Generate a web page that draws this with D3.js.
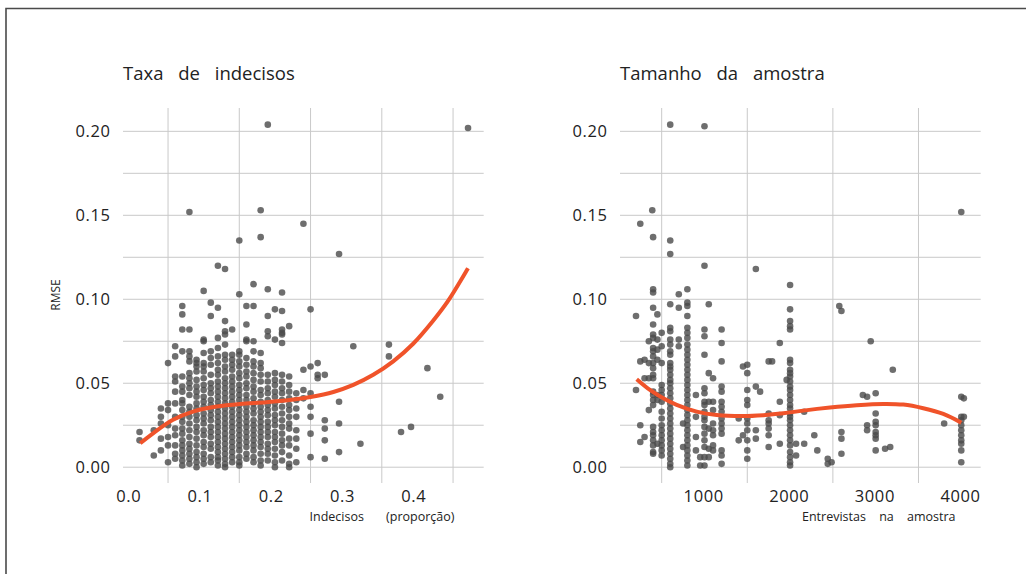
<!DOCTYPE html>
<html>
<head>
<meta charset="utf-8">
<script src="https://cdn.jsdelivr.net/npm/d3@7"></script>
<style>
  body { margin: 0; background: #fff; }
  svg text { font-family: "Open Sans", sans-serif; fill: #222; }
</style>
</head>
<body>
<div id="chart"></div>
<script>
// RMSE by share of undecided voters: [undecided share, [rmse values]]
const undecidedGroups = [
  [0.01, [0.021, 0.016]],
  [0.03, [0.022, 0.007]],
  [0.04, [0.035, 0.030, 0.026, 0.017, 0.010]],
  [0.05, [0.062, 0.038, 0.034, 0.025, 0.018, 0.013, 0.003]],
  [0.06, [0.072, 0.066, 0.054, 0.051, 0.045, 0.038, 0.030, 0.023, 0.019, 0.013, 0.008, 0.005]],
  [0.07, [0.096, 0.091, 0.082, 0.069, 0.054, 0.048, 0.045, 0.040, 0.038, 0.034, 0.030, 0.027, 0.023, 0.020, 0.016, 0.013, 0.010, 0.007, 0.004, 0.001]],
  [0.08, [0.152, 0.082, 0.069, 0.066, 0.063, 0.056, 0.053, 0.050, 0.047, 0.043, 0.036, 0.033, 0.030, 0.026, 0.022, 0.018, 0.014, 0.011, 0.008, 0.005, 0.002]],
  [0.09, [0.064, 0.062, 0.060, 0.057, 0.052, 0.048, 0.045, 0.042, 0.038, 0.035, 0.031, 0.028, 0.024, 0.021, 0.017, 0.013, 0.009, 0.006, 0.003, 0.000]],
  [0.10, [0.105, 0.076, 0.075, 0.068, 0.062, 0.060, 0.057, 0.053, 0.049, 0.046, 0.042, 0.039, 0.036, 0.032, 0.029, 0.026, 0.022, 0.019, 0.015, 0.012, 0.008, 0.005, 0.002]],
  [0.11, [0.098, 0.090, 0.069, 0.065, 0.061, 0.055, 0.050, 0.047, 0.044, 0.040, 0.037, 0.034, 0.031, 0.028, 0.024, 0.021, 0.018, 0.014, 0.011, 0.006, 0.003]],
  [0.12, [0.120, 0.095, 0.077, 0.071, 0.066, 0.062, 0.058, 0.055, 0.051, 0.048, 0.045, 0.042, 0.039, 0.036, 0.033, 0.030, 0.027, 0.024, 0.021, 0.018, 0.015, 0.012, 0.009, 0.006, 0.004, 0.001]],
  [0.13, [0.118, 0.087, 0.081, 0.079, 0.073, 0.067, 0.064, 0.060, 0.057, 0.053, 0.050, 0.047, 0.044, 0.041, 0.038, 0.035, 0.032, 0.029, 0.026, 0.023, 0.020, 0.017, 0.014, 0.011, 0.008, 0.005, 0.002, 0.000]],
  [0.14, [0.082, 0.067, 0.064, 0.061, 0.058, 0.054, 0.051, 0.048, 0.045, 0.042, 0.039, 0.036, 0.033, 0.030, 0.027, 0.024, 0.021, 0.018, 0.015, 0.012, 0.009, 0.006, 0.003]],
  [0.15, [0.135, 0.103, 0.069, 0.067, 0.063, 0.060, 0.056, 0.053, 0.049, 0.046, 0.043, 0.040, 0.037, 0.034, 0.031, 0.028, 0.025, 0.022, 0.019, 0.016, 0.013, 0.010, 0.006, 0.003, 0.001]],
  [0.16, [0.096, 0.085, 0.076, 0.075, 0.065, 0.061, 0.057, 0.054, 0.050, 0.047, 0.043, 0.040, 0.036, 0.033, 0.030, 0.027, 0.024, 0.021, 0.018, 0.015, 0.012, 0.008, 0.005]],
  [0.17, [0.109, 0.096, 0.075, 0.069, 0.063, 0.060, 0.056, 0.052, 0.048, 0.045, 0.041, 0.038, 0.035, 0.032, 0.028, 0.025, 0.022, 0.019, 0.016, 0.013, 0.010, 0.006, 0.003]],
  [0.18, [0.153, 0.137, 0.068, 0.062, 0.059, 0.055, 0.051, 0.046, 0.043, 0.039, 0.036, 0.033, 0.030, 0.027, 0.024, 0.021, 0.018, 0.015, 0.012, 0.008, 0.004, 0.001]],
  [0.19, [0.204, 0.106, 0.090, 0.081, 0.078, 0.055, 0.051, 0.047, 0.044, 0.040, 0.037, 0.034, 0.031, 0.027, 0.024, 0.021, 0.018, 0.014, 0.011, 0.008, 0.004]],
  [0.20, [0.094, 0.076, 0.056, 0.052, 0.049, 0.045, 0.042, 0.038, 0.035, 0.031, 0.028, 0.025, 0.021, 0.018, 0.015, 0.011, 0.007, 0.003, 0.000]],
  [0.21, [0.104, 0.093, 0.082, 0.080, 0.079, 0.074, 0.055, 0.051, 0.047, 0.044, 0.040, 0.036, 0.032, 0.028, 0.024, 0.020, 0.016, 0.013, 0.009, 0.004]],
  [0.22, [0.084, 0.054, 0.049, 0.045, 0.041, 0.037, 0.034, 0.030, 0.026, 0.023, 0.017, 0.013, 0.007, 0.002, 0.000]],
  [0.23, [0.044, 0.040, 0.035, 0.030, 0.022, 0.017, 0.011, 0.003]],
  [0.24, [0.145, 0.058, 0.046, 0.041]],
  [0.25, [0.094, 0.060, 0.044, 0.036, 0.030, 0.020, 0.006]],
  [0.26, [0.062, 0.055, 0.053]],
  [0.27, [0.055, 0.028, 0.023, 0.016, 0.005]],
  [0.29, [0.127, 0.039, 0.026, 0.009]],
  [0.31, [0.072]],
  [0.32, [0.014]],
  [0.36, [0.073, 0.066]],
  [0.377, [0.021]],
  [0.391, [0.024]],
  [0.414, [0.059]],
  [0.432, [0.042]],
  [0.471, [0.202]]
];

// RMSE by sample size: [interviews, [rmse values]]
const sampleGroups = [
  [200, [0.090, 0.046]],
  [250, [0.145, 0.063, 0.025, 0.015]],
  [300, [0.064, 0.053, 0.018]],
  [350, [0.075, 0.062, 0.053, 0.034]],
  [390, [0.153]],
  [400, [0.137, 0.106, 0.104, 0.095, 0.085, 0.079, 0.077, 0.071, 0.069, 0.066, 0.062, 0.059, 0.055, 0.053, 0.045, 0.043, 0.040, 0.037, 0.024, 0.021, 0.019, 0.016, 0.013, 0.009, 0.008]],
  [450, [0.091, 0.076, 0.070, 0.064, 0.043, 0.040, 0.014]],
  [500, [0.080, 0.072, 0.062, 0.049, 0.046, 0.043, 0.039, 0.033, 0.029, 0.025, 0.022, 0.019, 0.016, 0.013, 0.010, 0.007]],
  [600, [0.204, 0.135, 0.127, 0.097, 0.083, 0.081, 0.076, 0.073, 0.069, 0.067, 0.062, 0.060, 0.058, 0.055, 0.052, 0.050, 0.047, 0.044, 0.041, 0.038, 0.035, 0.032, 0.029, 0.026, 0.023, 0.020, 0.017, 0.014, 0.011, 0.008, 0.005, 0.002, 0.000]],
  [700, [0.103, 0.095, 0.076, 0.072]],
  [750, [0.026, 0.012]],
  [800, [0.106, 0.098, 0.096, 0.090, 0.083, 0.080, 0.077, 0.073, 0.070, 0.067, 0.064, 0.061, 0.058, 0.055, 0.052, 0.049, 0.046, 0.043, 0.040, 0.037, 0.034, 0.031, 0.028, 0.025, 0.022, 0.019, 0.016, 0.013, 0.010, 0.007, 0.004, 0.001]],
  [900, [0.043, 0.030, 0.018, 0.010]],
  [950, [0.006, 0.001]],
  [1000, [0.203, 0.120, 0.082, 0.078, 0.067, 0.047, 0.044, 0.039, 0.037, 0.033, 0.030, 0.028, 0.024, 0.020, 0.016, 0.012, 0.006, 0.001]],
  [1050, [0.097, 0.056, 0.039, 0.023, 0.011, 0.006]],
  [1100, [0.053, 0.039, 0.034, 0.026, 0.022, 0.019, 0.013, 0.010]],
  [1200, [0.082, 0.074, 0.063, 0.048, 0.045, 0.039, 0.036, 0.033, 0.029, 0.026, 0.023, 0.020, 0.010, 0.007, 0.002]],
  [1400, [0.029, 0.016]],
  [1450, [0.060, 0.019]],
  [1500, [0.061, 0.056, 0.046, 0.040, 0.037, 0.029, 0.026, 0.022, 0.016, 0.010, 0.005]],
  [1600, [0.118, 0.048, 0.022, 0.017]],
  [1650, [0.045]],
  [1750, [0.063, 0.032, 0.028, 0.026, 0.023, 0.019, 0.012]],
  [1790, [0.063]],
  [1880, [0.074, 0.039, 0.031, 0.014]],
  [1960, [0.052]],
  [2000, [0.1085, 0.094, 0.087, 0.084, 0.082, 0.064, 0.062, 0.058, 0.056, 0.054, 0.051, 0.048, 0.046, 0.043, 0.040, 0.037, 0.035, 0.032, 0.030, 0.028, 0.025, 0.022, 0.019, 0.016, 0.013, 0.009, 0.006, 0.003, 0.001]],
  [2070, [0.014, 0.007]],
  [2165, [0.033, 0.014]],
  [2283, [0.019]],
  [2318, [0.010]],
  [2440, [0.005, 0.002]],
  [2485, [0.003]],
  [2575, [0.096]],
  [2600, [0.093, 0.021, 0.017, 0.008]],
  [2850, [0.043]],
  [2900, [0.042, 0.025, 0.022]],
  [2942, [0.075]],
  [3000, [0.044, 0.032, 0.027, 0.025, 0.021, 0.019, 0.017, 0.010]],
  [3110, [0.011]],
  [3170, [0.012]],
  [3200, [0.058]],
  [3800, [0.026]],
  [4000, [0.152, 0.042, 0.030, 0.028, 0.025, 0.022, 0.019, 0.016, 0.014, 0.010, 0.003]],
  [4030, [0.041, 0.030]]
];

// smoothed trend lines
const undecidedFitX = [0.011, 0.03, 0.057, 0.085, 0.118, 0.151, 0.188, 0.221, 0.25, 0.282, 0.31, 0.338, 0.366, 0.394, 0.422, 0.443, 0.471];
const undecidedFitY = [0.0143, 0.0205, 0.0282, 0.0331, 0.0361, 0.0377, 0.0387, 0.040, 0.0418, 0.0448, 0.049, 0.055, 0.063, 0.0735, 0.0872, 0.099, 0.1185];
const sampleFitX = [208, 363, 519, 675, 909, 1143, 1453, 1687, 1921, 2154, 2466, 2778, 3089, 3323, 3556, 3790, 4000];
const sampleFitY = [0.0524, 0.046, 0.041, 0.0371, 0.0331, 0.0311, 0.0305, 0.031, 0.0321, 0.0337, 0.0355, 0.0369, 0.0377, 0.0373, 0.0351, 0.0317, 0.0265];

const yTicks = [0, 0.05, 0.10, 0.15, 0.20];
const yGrid = [0, 0.025, 0.05, 0.075, 0.10, 0.125, 0.15, 0.175, 0.20];
const undecidedTicks = [0, 0.1, 0.2, 0.3, 0.4];
const undecidedGrid = [0.05, 0.15, 0.25, 0.35, 0.45];
const sampleTicks = [1000, 2000, 3000, 4000];
const sampleGrid = [500, 1500, 2500, 3500];

const W = 1026, H = 574;
const svg = d3.select("#chart").append("svg")
    .attr("width", W)
    .attr("height", H);

// frame
svg.append("path")
    .attr("d", `M6,${H} L6,8.5 L${W},8.5`)
    .attr("fill", "none")
    .attr("stroke", "#4a4a4a")
    .attr("stroke-width", 1.6);

const y = d3.scaleLinear().domain([-0.0094, 0.2139]).range([483, 108]);

const panels = [
  { title: "Taxa de indecisos", xTitle: "Indecisos (proporção)", titleGap: "19px",
    range: [123, 483.7], domain: [-0.0132, 0.493],
    ticks: undecidedTicks, grid: undecidedGrid, fmt: d3.format(".1f"), tickShift: -3.6,
    titleEnd: 454.5, groups: undecidedGroups, fitX: undecidedFitX, fitY: undecidedFitY },
  { title: "Tamanho da amostra", xTitle: "Entrevistas na amostra", titleGap: "10px",
    range: [620, 980.7], domain: [13, 4227],
    ticks: sampleTicks, grid: sampleGrid, fmt: d3.format("d"), tickShift: -0.8,
    titleEnd: 955.5, groups: sampleGroups, fitX: sampleFitX, fitY: sampleFitY }
];

panels.forEach(p => {
  const x = d3.scaleLinear().domain(p.domain).range(p.range);
  const g = svg.append("g");

  // horizontal grid
  g.append("g").selectAll("line")
    .data(yGrid).enter().append("line")
      .attr("x1", p.range[0]).attr("x2", p.range[1])
      .attr("y1", d => y(d)).attr("y2", d => y(d))
      .attr("stroke", "#c9c9c9").attr("stroke-width", 1);

  // vertical grid (minor positions only)
  g.append("g").selectAll("line")
    .data(p.grid).enter().append("line")
      .attr("x1", d => x(d)).attr("x2", d => x(d))
      .attr("y1", y.range()[0]).attr("y2", y.range()[1])
      .attr("stroke", "#c9c9c9").attr("stroke-width", 1);

  // y tick labels
  g.append("g").selectAll("text")
    .data(yTicks).enter().append("text")
      .attr("x", p.range[0] - 12.5)
      .attr("y", d => y(d) + 6)
      .attr("text-anchor", "end")
      .style("font-size", "16.5px")
      .style("letter-spacing", "0.6px")
      .text(d => d3.format(".2f")(d));

  // x tick labels
  g.append("g").selectAll("text")
    .data(p.ticks).enter().append("text")
      .attr("x", d => x(d) + p.tickShift)
      .attr("y", 501.7)
      .attr("text-anchor", "middle")
      .style("font-size", "16.5px")
      .style("letter-spacing", "0.6px")
      .text(d => p.fmt(d));

  // points
  const pts = p.groups.flatMap(([xv, ys]) => ys.map(yv => ({ x: xv, y: yv })));
  g.append("g").selectAll("circle")
    .data(pts).enter().append("circle")
      .attr("cx", d => x(d.x))
      .attr("cy", d => y(d.y))
      .attr("r", 3.3)
      .attr("fill", "#4a4a4a")
      .attr("fill-opacity", 0.8);

  // trend line
  const line = d3.line()
      .x(d => x(d[0]))
      .y(d => y(d[1]))
      .curve(d3.curveCatmullRom.alpha(0.5));
  g.append("path")
    .datum(d3.zip(p.fitX, p.fitY))
    .attr("d", line)
    .attr("fill", "none")
    .attr("stroke", "#f0532a")
    .attr("stroke-width", 4);

  // panel title
  g.append("text")
    .attr("x", p.range[0])
    .attr("y", 80)
    .style("font-size", "18.5px")
    .style("word-spacing", "10px")
    .text(p.title);

  // x axis title
  g.append("text")
    .attr("x", p.titleEnd)
    .attr("y", 520.7)
    .attr("text-anchor", "end")
    .style("font-size", "12.5px")
    .style("word-spacing", p.titleGap)
    .text(p.xTitle);
});

// y axis title
svg.append("text")
  .attr("transform", "translate(59.5,295) rotate(-90)")
  .attr("text-anchor", "middle")
  .style("font-size", "12px")
  .text("RMSE");
</script>
</body>
</html>
